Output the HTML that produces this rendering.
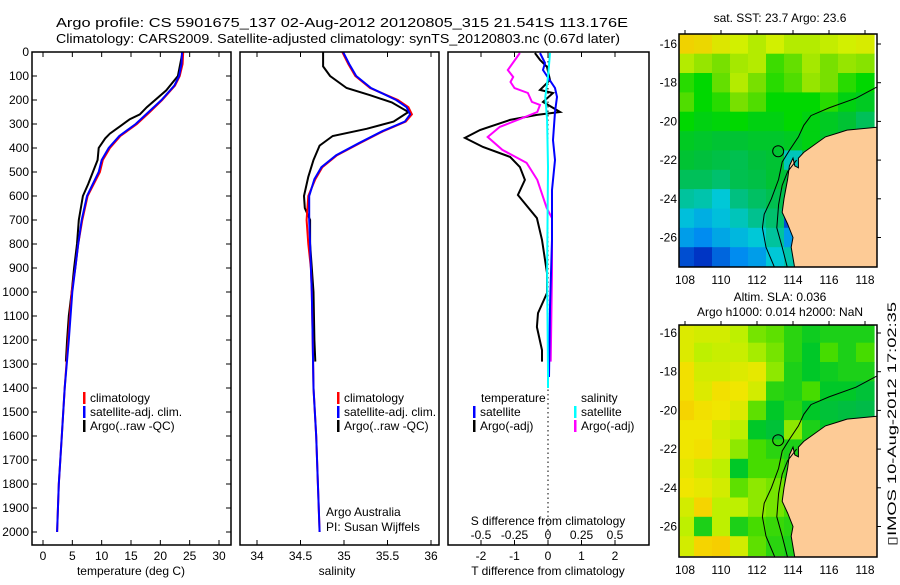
<!DOCTYPE html>
<html><head><meta charset="utf-8"><style>
body{margin:0;background:#fff;width:900px;height:580px;overflow:hidden}
svg{font-family:"Liberation Sans",sans-serif;font-size:12px}
</style></head><body>
<svg id="fig" width="900" height="580" viewBox="0 0 900 580" xmlns="http://www.w3.org/2000/svg">
<text x="56" y="27" font-size="13" textLength="572" lengthAdjust="spacingAndGlyphs">Argo profile: CS 5901675_137 02-Aug-2012 20120805_315 21.541S 113.176E</text>
<text x="56" y="43" font-size="13" textLength="564" lengthAdjust="spacingAndGlyphs">Climatology: CARS2009. Satellite-adjusted climatology: synTS_20120803.nc (0.67d later)</text>
<text x="780" y="22" text-anchor="middle">sat. SST: 23.7 Argo: 23.6</text>
<text x="780" y="301" text-anchor="middle">Altim. SLA: 0.036</text>
<text x="780" y="316" text-anchor="middle">Argo h1000: 0.014 h2000: NaN</text>
<text transform="translate(896,424) rotate(-90)" text-anchor="middle" font-size="12" textLength="244" lengthAdjust="spacingAndGlyphs">▯IMOS 10-Aug-2012 17:02:35</text>
</svg>
<script>
// ---- profile data ----
const climDepth=[0,50,100,140,200,250,300,350,400,450,500,600,700,800,900,1000,1200,1400,1600,1800,2000];
const climTemp=[23.9,23.8,23.3,22.5,20.3,18.2,16.0,13.2,11.4,10.2,9.7,7.6,6.7,6.0,5.5,4.9,4.3,3.7,3.2,2.7,2.4];
const satTemp=[23.7,23.6,23.2,22.4,20.2,18.0,15.8,13.0,11.2,10.0,9.5,7.5,6.6,6.0,5.5,5.0,4.4,3.7,3.2,2.7,2.4];
const argoDepth=[0,100,160,230,260,280,310,340,360,400,450,500,550,600,700,800,900,1000,1100,1200,1290];
const argoTemp=[23.8,23.0,21.0,17.7,16.5,14.8,13.1,11.4,10.6,9.5,9.3,8.5,7.7,6.8,6.1,5.8,5.3,4.9,4.4,4.1,3.9];
const salDepth=[0,50,100,150,200,230,260,290,330,380,430,480,530,600,700,800,900,1000,1200,1400,1600,1800,2000];
const climSal=[34.98,35.05,35.13,35.3,35.62,35.74,35.78,35.71,35.45,35.18,34.92,34.75,34.67,34.59,34.57,34.59,34.62,34.63,34.64,34.65,34.68,34.70,34.72];
const satSal=[34.99,35.06,35.14,35.31,35.6,35.72,35.76,35.70,35.44,35.17,34.91,34.74,34.66,34.60,34.60,34.61,34.62,34.63,34.64,34.65,34.68,34.70,34.72];
const argoSalDepth=[0,60,100,150,180,210,250,290,320,350,390,450,520,600,650,700,800,900,1000,1200,1290];
const argoSal=[34.76,34.76,34.84,35.03,35.3,35.55,35.74,35.57,35.26,34.87,34.72,34.65,34.59,34.54,34.55,34.61,34.61,34.63,34.65,34.66,34.67];
// difference panel
const dTDepth=[4,33,62,117,158,171,208,250,262,283,325,358,396,437,479,533,596,692,783,921,1004,1088,1146,1242,1290];
const dTArgo=[-0.39,-0.24,-0.03,0.06,-0.24,0.15,-0.15,0.36,-0.33,-1.13,-2.03,-2.48,-1.94,-1.13,-0.84,-0.69,-0.9,-0.33,-0.18,-0.03,-0.03,-0.3,-0.33,-0.18,-0.18];
const dSDepth=[4,75,104,125,150,171,208,221,250,275,312,354,408,462,533,650,692,921,1290];
const dSArgo=[-0.21,-0.3,-0.26,-0.28,-0.25,-0.15,-0.12,-0.06,-0.08,-0.19,-0.36,-0.45,-0.34,-0.16,-0.08,-0.01,0.03,0.03,0.02];
const dTSatDepth=[4,46,75,150,187,250,367,450,575,783,1062,1354];
const dTSat=[-0.24,-0.09,-0.15,0.21,0.27,0.21,0.15,0.21,0.12,0.12,0.06,0.03];
const dSSatDepth=[4,104,187,283,479,921,1337,1400];
const dSSat=[0.015,0,-0.02,-0.007,0,-0.007,0,0];
// ticks
const depthTicks=[0,100,200,300,400,500,600,700,800,900,1000,1100,1200,1300,1400,1500,1600,1700,1800,1900,2000];
const tempTicks=[0,5,10,15,20,25,30];
const salTicks=[34,34.5,35,35.5,36];
const salTickLabels=["34","34.5","35","35.5","36"];
const dTTicks=[-2,-1,0,1,2];
const dSTicks=[-0.5,-0.25,0,0.25,0.5];
const dSTickLabels=["-0.5","-0.25","0","0.25","0.5"];
// map grids (rows lat 16..27, cols lon 108..118)
const mapLats=[16,17,18,19,20,21,22,23,24,25,26,27];
const mapLons=[108,109,110,111,112,113,114,115,116,117,118];
const sstGrid=[
[26.8,26.7,26.4,26.2,26.0,26.2,26.0,26.0,26.1,26.2,26.3],
[26.0,25.8,25.6,25.9,26.0,25.3,25.5,25.9,25.6,25.8,25.7],
[25.2,25.0,25.5,26.0,25.6,25.2,25.4,25.8,25.6,25.2,25.0],
[25.4,25.0,25.2,25.6,25.4,25.0,25.0,25.0,25.2,24.8,24.6],
[25.0,24.8,24.9,25.0,24.8,24.8,25.0,24.8,24.6,24.4,24.0],
[24.6,24.5,24.4,24.4,24.5,24.5,24.6,24.8,24.5,24.2,24.0],
[24.4,24.3,24.2,24.1,24.3,24.4,23.2,24.0,24.0,24.0,24.0],
[24.0,24.0,23.8,24.1,24.2,24.4,24.3,24.0,24.0,24.0,24.0],
[23.4,23.3,23.0,23.6,23.9,24.1,24.2,24.0,24.0,24.0,24.0],
[22.9,22.7,22.9,23.2,23.5,23.8,21.8,24.0,24.0,24.0,24.0],
[22.5,22.3,22.6,22.8,23.0,23.4,22.5,24.0,24.0,24.0,24.0],
[21.8,21.6,22.0,22.3,22.5,23.0,23.3,24.0,24.0,24.0,24.0]];
const slaGrid=[
[0.13,0.12,0.12,0.10,0.07,0.06,0.03,0.01,0.02,0.02,0.02],
[0.13,0.10,0.11,0.11,0.09,0.07,0.03,0.00,0.05,0.02,0.05],
[0.16,0.12,0.12,0.13,0.14,0.08,0.02,0.00,0.01,0.02,0.02],
[0.16,0.13,0.16,0.15,0.12,0.03,0.02,0.05,0.00,0.00,-0.02],
[0.18,0.16,0.15,0.13,0.06,0.00,0.03,0.00,-0.02,-0.03,-0.04],
[0.15,0.15,0.12,0.10,0.00,-0.02,0.08,0.02,0.00,0.00,0.00],
[0.15,0.16,0.13,0.08,0.05,0.03,0.02,0.02,0.02,0.02,0.02],
[0.14,0.12,0.10,0.00,0.05,0.05,0.03,0.02,0.02,0.02,0.02],
[0.15,0.14,0.12,0.06,0.08,0.07,0.04,0.02,0.02,0.02,0.02],
[0.12,0.18,0.10,0.10,0.08,0.07,0.05,0.02,0.02,0.02,0.02],
[0.10,0.02,0.10,0.02,0.05,0.04,0.03,0.02,0.02,0.02,0.02],
[0.12,0.18,0.19,0.12,0.06,0.03,0.02,0.02,0.02,0.02,0.02]];
const coastLon=[118.7,117,116.5,115.8,115.2,114.6,114.3,114.3,114.1,114,113.8,113.7,113.5,113.4,113.7,114.0,113.9,114.1,118.7];
const coastLat=[20.3,20.45,20.6,20.8,21.2,21.6,21.9,22.4,22.3,21.9,22.3,23,24,24.7,25.3,26.0,26.5,27.6,27.6];
const isoLon=[118.7,117.5,116,115,114.6,114.3,113.8,113.4,113.2,112.8,112.4,112.3,112.5,113];
const isoLat=[18.2,18.8,19.3,19.7,20.2,20.8,21.5,22.1,23,24,24.8,25.5,26.5,27.6];
const iso2Lon=[114.2,113.7,113.4,113.2,113.1,113.4,113.7];
const iso2Lat=[22.0,22.6,23.3,24.3,25.5,26.5,27.6];
const argoPos=[113.176,21.541];

const NS='http://www.w3.org/2000/svg';
const svg=document.getElementById('fig');
function el(tag,attrs,parent){const e=document.createElementNS(NS,tag);for(const k in attrs)e.setAttribute(k,attrs[k]);(parent||svg).appendChild(e);return e;}
const TOP=52,BOT=545;
const yD=d=>TOP+d*0.24;
function lin(d0,d1,p0,p1){return v=>p0+(v-d0)*(p1-p0)/(d1-d0);}
function path(xs,ys,fx,fy,color,name,w){
  let d='';for(let i=0;i<xs.length;i++)d+=(i?'L':'M')+fx(xs[i]).toFixed(1)+','+fy(ys[i]).toFixed(1);
  const p=el('path',{d:d,fill:'none',stroke:color,'stroke-width':w||2});
  
  
  return p;
}
function txt(x,y,s,anchor,name){const t=el('text',{x:x,y:y,'text-anchor':anchor||'start'});t.textContent=s;
  
  return t;}
function box(x0,x1,y0,y1,name){const r=el('rect',{x:x0,y:y0,width:x1-x0,height:y1-y0,fill:'none',stroke:'#000','stroke-width':1.5});
  
  }
function legendItem(x,y,color,label,name){
  const g=el('g',{});
  
  
  el('rect',{x:x,y:y-10,width:2.5,height:12,fill:color},g);
  const t=el('text',{x:x+7,y:y},g);t.textContent=label;
}
// panel 1 temperature
const xT=lin(0,30,43,219);
for(const d of depthTicks){txt(29,yD(d)+4,String(d),'end','depth-tick-label');
  el('line',{x1:32,x2:37,y1:yD(d),y2:yD(d),stroke:'#000'});el('line',{x1:226,x2:231,y1:yD(d),y2:yD(d),stroke:'#000'});}
for(const t of tempTicks){txt(xT(t),560,String(t),'middle','temp-tick-label');
  el('line',{x1:xT(t),x2:xT(t),y1:BOT,y2:BOT-5,stroke:'#000'});el('line',{x1:xT(t),x2:xT(t),y1:TOP,y2:TOP+5,stroke:'#000'});}
txt(131,575,'temperature (deg C)','middle','temp-axis-title');
path(argoTemp,argoDepth,xT,yD,'#000','argo-temp-line');
path(climTemp,climDepth,xT,yD,'#f00','clim-temp-line');
path(satTemp,climDepth,xT,yD,'#00f','sat-temp-line');
box(32,231,TOP,BOT,'temp-panel-frame');
legendItem(83,402,'#f00','climatology','temp-legend-clim');
legendItem(83,416,'#00f','satellite-adj. clim.','temp-legend-sat');
legendItem(83,430,'#000','Argo(..raw -QC)','temp-legend-argo');
// panel 2 salinity
const xS=lin(34,36,257,431);
for(let i=0;i<salTicks.length;i++){txt(xS(salTicks[i]),560,salTickLabels[i],'middle','sal-tick-label');
  el('line',{x1:xS(salTicks[i]),x2:xS(salTicks[i]),y1:BOT,y2:BOT-5,stroke:'#000'});el('line',{x1:xS(salTicks[i]),x2:xS(salTicks[i]),y1:TOP,y2:TOP+5,stroke:'#000'});}
txt(337,575,'salinity','middle','sal-axis-title');
path(argoSal,argoSalDepth,xS,yD,'#000','argo-sal-line');
path(climSal,salDepth,xS,yD,'#f00','clim-sal-line');
path(satSal,salDepth,xS,yD,'#00f','sat-sal-line');
box(240,439,TOP,BOT,'sal-panel-frame');
legendItem(337,402,'#f00','climatology','sal-legend-clim');
legendItem(337,416,'#00f','satellite-adj. clim.','sal-legend-sat');
legendItem(337,430,'#000','Argo(..raw -QC)','sal-legend-argo');
txt(326,516,'Argo Australia','start','credit-line-1');
txt(326,531,'PI: Susan Wijffels','start','credit-line-2');
// panel 3 differences
const xdT=lin(0,1,548,581.5);
const xdS=lin(0,1,548,682);
el('line',{x1:548,x2:548,y1:TOP,y2:BOT,stroke:'#000','stroke-dasharray':'1.5,3'});
for(const t of dTTicks){txt(xdT(t),560,String(t),'middle','dT-tick-label');
  el('line',{x1:xdT(t),x2:xdT(t),y1:BOT,y2:BOT-5,stroke:'#000'});el('line',{x1:xdT(t),x2:xdT(t),y1:TOP,y2:TOP+5,stroke:'#000'});}
for(let i=0;i<dSTicks.length;i++){txt(xdS(dSTicks[i]),539,dSTickLabels[i],'middle','dS-tick-label');}
txt(548,525,'S difference from climatology','middle','dS-axis-title');
txt(548,575,'T difference from climatology','middle','dT-axis-title');
path(dTArgo,dTDepth,xdT,yD,'#000','argo-dT-line');
path(dSArgo,dSDepth,xdS,yD,'#f0f','argo-dS-line');
path(dTSat,dTSatDepth,xdT,yD,'#00f','sat-dT-line');
path(dSSat,dSSatDepth,xdS,yD,'#0ff','sat-dS-line');
box(448,649,TOP,BOT,'diff-panel-frame');
txt(481,402,'temperature','start','diff-legend-temp-heading');
txt(581,402,'salinity','start','diff-legend-sal-heading');
legendItem(473,416,'#00f','satellite','diff-legend-sat-T');
legendItem(473,430,'#000','Argo(-adj)','diff-legend-argo-T');
legendItem(574,416,'#0ff','satellite','diff-legend-sat-S');
legendItem(574,430,'#f0f','Argo(-adj)','diff-legend-argo-S');
// maps
function ramp(stops,v){
  if(v<=stops[0][0])return 'rgb('+stops[0][1].join(',')+')';
  for(let i=1;i<stops.length;i++){if(v<=stops[i][0]){const a=stops[i-1],b=stops[i],f=(v-a[0])/(b[0]-a[0]);
    return 'rgb('+a[1].map((c,k)=>Math.round(c+(b[1][k]-c)*f)).join(',')+')';}}
  return 'rgb('+stops[stops.length-1][1].join(',')+')';
}
const sstStops=[[21.5,[0,40,190]],[22.3,[0,140,240]],[23.0,[0,200,215]],[23.6,[0,192,128]],[24.3,[0,192,60]],[25.0,[0,216,0]],[25.6,[120,224,0]],[26.2,[210,240,0]],[26.8,[240,210,0]]];
const slaStops=[[-0.05,[0,184,80]],[0,[0,200,40]],[0.05,[70,220,0]],[0.1,[190,240,0]],[0.15,[240,230,0]],[0.2,[248,200,0]]];
function drawMap(x0,x1,y0,y1,lat16y,grid,stops,name){
  const g=el('g',{});
  
  
  const xL=lin(108,118,685,865);
  const yL=lin(16,26,lat16y,lat16y+193.5);
  const cid='clip-'+name;
  const cp=el('clipPath',{id:cid},g);el('rect',{x:x0,y:y0,width:x1-x0,height:y1-y0},cp);
  const inner=el('g',{'clip-path':'url(#'+cid+')'},g);
  for(let r=0;r<mapLats.length;r++)for(let c=0;c<mapLons.length;c++){
    const cx=xL(mapLons[c]-0.5),cy=yL(mapLats[r]-0.5);
    const cell=el('rect',{x:cx.toFixed(1),y:cy.toFixed(1),width:(xL(1)-xL(0)+0.6).toFixed(1),height:(yL(1)-yL(0)+0.6).toFixed(1),fill:ramp(stops,grid[r][c])},inner);
    
    
  }
  let d='';for(let i=0;i<coastLon.length;i++)d+=(i?'L':'M')+xL(coastLon[i]).toFixed(1)+','+yL(coastLat[i]).toFixed(1);
  const land=el('path',{d:d+'Z',fill:'#fdcb96',stroke:'#000','stroke-width':1},inner);
  
  
  for(const [LO,LA,nm] of [[isoLon,isoLat,'isobath-deep'],[iso2Lon,iso2Lat,'isobath-shelf']]){
    let s='';for(let i=0;i<LO.length;i++)s+=(i?'L':'M')+xL(LO[i]).toFixed(1)+','+yL(LA[i]).toFixed(1);
    const p=el('path',{d:s,fill:'none',stroke:'#000','stroke-width':1},inner);
    
    
  }
  const ci=el('circle',{cx:xL(argoPos[0]),cy:yL(argoPos[1]),r:5.5,fill:'none',stroke:'#000','stroke-width':1},g);
  
  
  const fr=el('rect',{x:x0,y:y0,width:x1-x0,height:y1-y0,fill:'none',stroke:'#000','stroke-width':1.5},g);
  
  
  for(let lon=108;lon<=118;lon+=2){
    const t=el('text',{x:xL(lon),y:y1+17,'text-anchor':'middle'},g);t.textContent=String(lon);
    
    
    el('line',{x1:xL(lon),x2:xL(lon),y1:y0,y2:y0-4,stroke:'#000'},g);
  }
  for(let lat=16;lat<=26;lat+=2){
    const t=el('text',{x:677,y:yL(lat)+4,'text-anchor':'end'},g);t.textContent='-'+lat;
    
    
    el('line',{x1:x1,x2:x1+4,y1:yL(lat),y2:yL(lat),stroke:'#000'},g);
  }
}
drawMap(679,877,34,267,44,sstGrid,sstStops,'sst-map');
drawMap(679,877,325,557,333,slaGrid,slaStops,'sla-map');
</script>
</body></html>
